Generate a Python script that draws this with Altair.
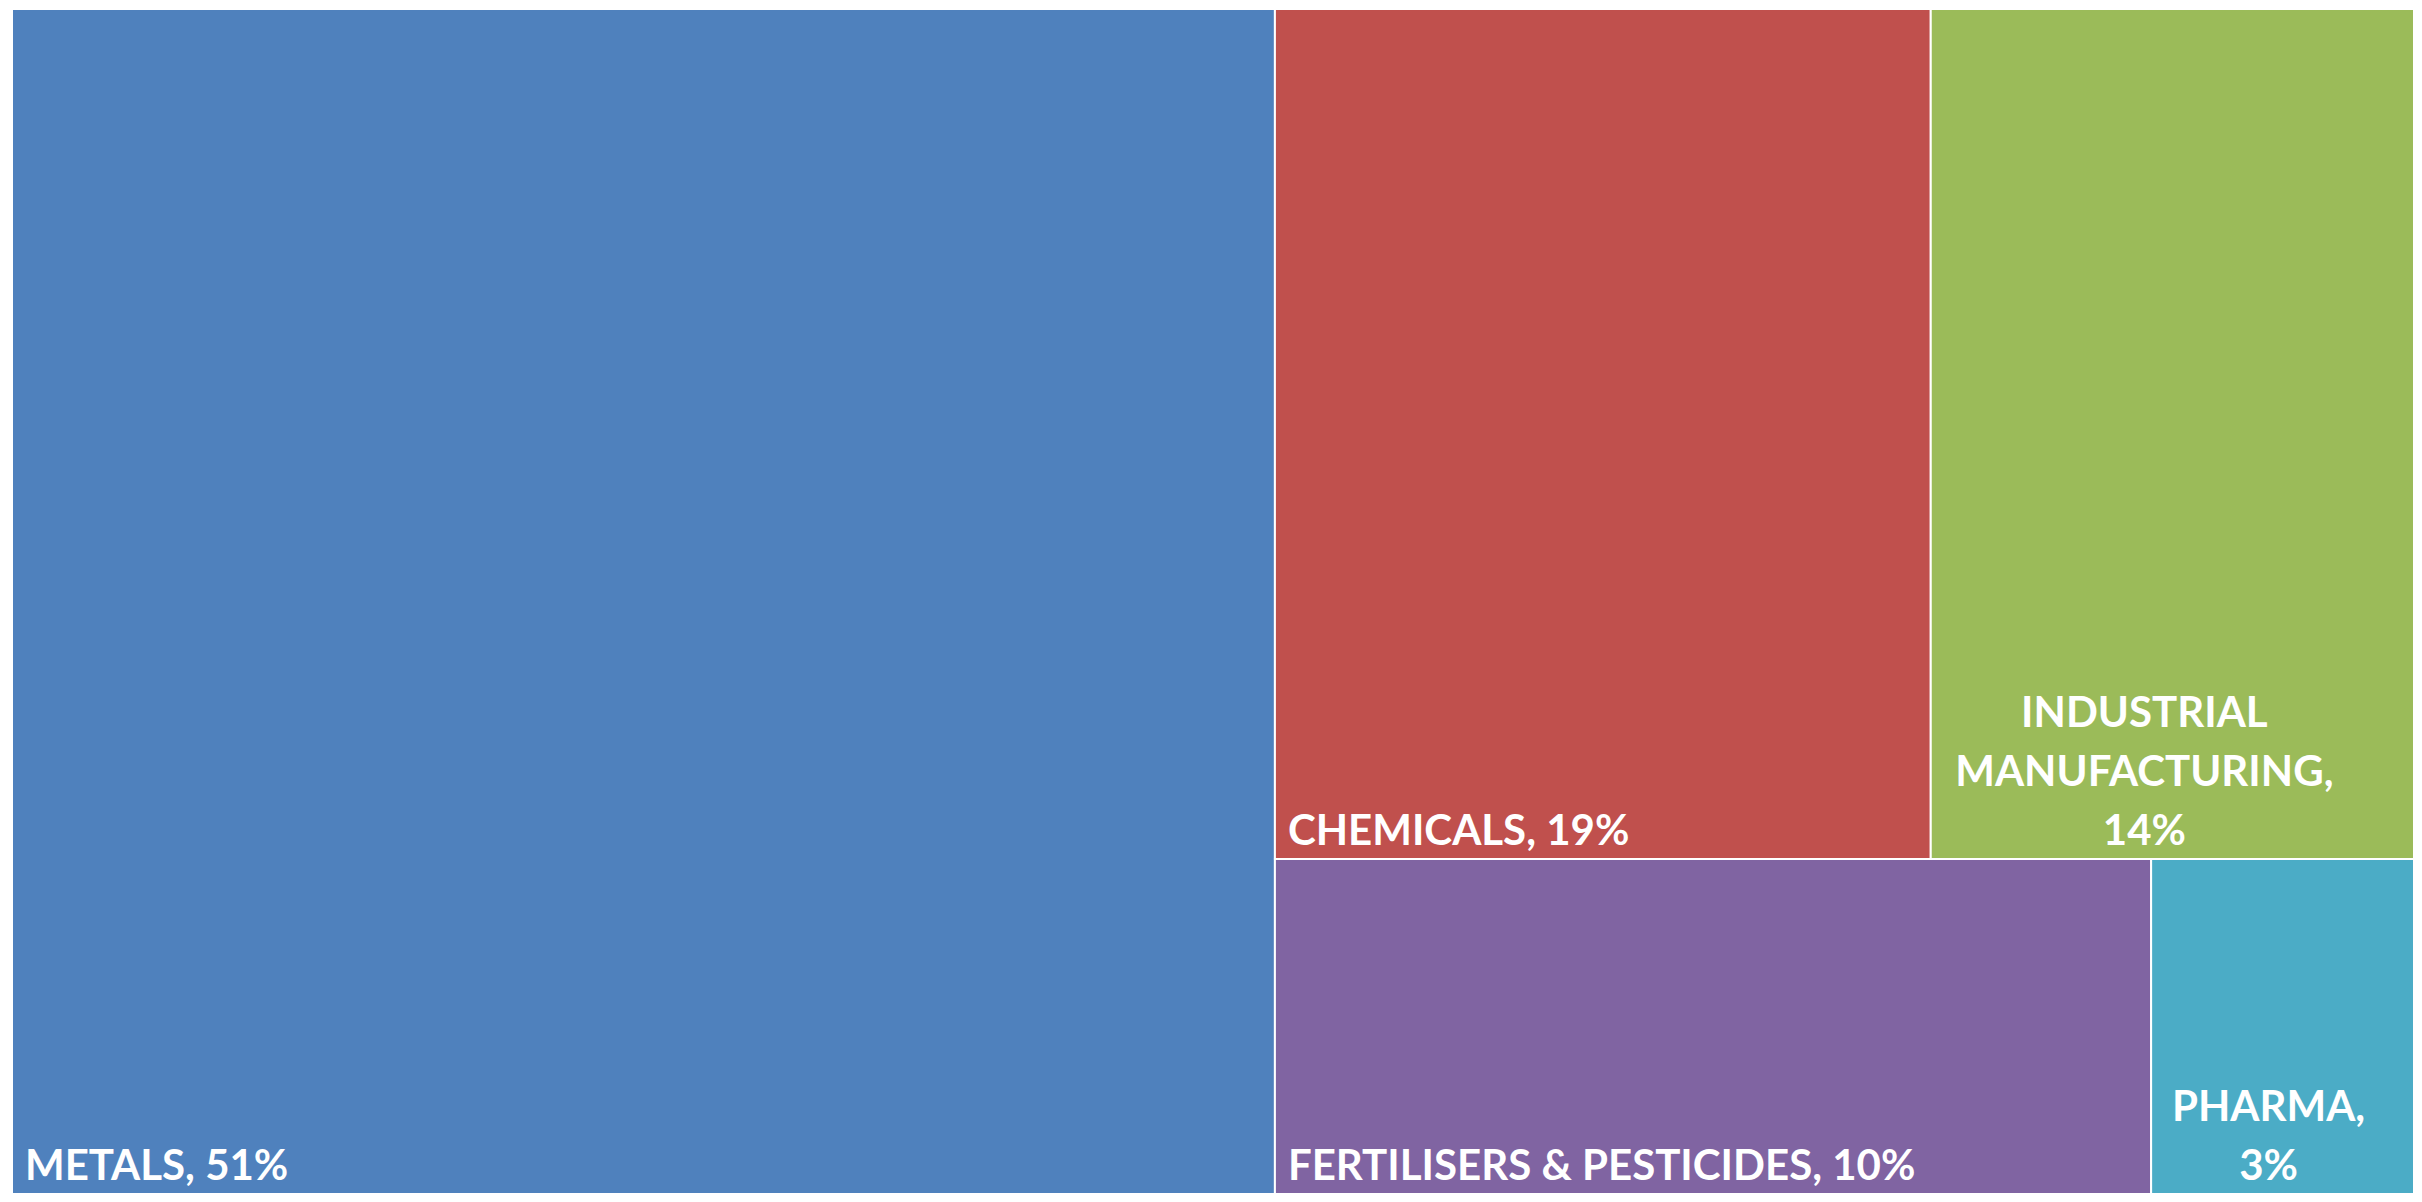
import altair as alt
import pandas as pd

# ---- data ----
categories = ["METALS", "CHEMICALS", "INDUSTRIAL MANUFACTURING",
              "FERTILISERS & PESTICIDES", "PHARMA"]
shares = [51, 19, 14, 10, 3]
colors = ["#4F81BD", "#C0504D", "#9BBB59", "#8064A2", "#4BACC6"]
wrapped = [False, False, True, False, True]   # label broken one word per line

# ---- style ----
W, H = 2402, 1185          # plot area in px
FONT_SIZE = 42
LINE_H = 59
PAD_X, PAD_B = 13, 14
center_nudge = {"INDUSTRIAL MANUFACTURING": -28, "PHARMA": -14}


def squarify(vals, x, y, w, h):
    """Squarified treemap layout; vals are areas (already scaled)."""
    out = []
    vals = list(vals)
    idx = list(range(len(vals)))
    while idx:
        short = min(w, h)

        def worst(r):
            s = sum(vals[i] for i in r)
            t = s / short
            return max(max(t * t / vals[i], vals[i] / (t * t)) for i in r)

        row = [idx[0]]
        k = 1
        while k < len(idx) and worst(row + [idx[k]]) <= worst(row):
            row.append(idx[k])
            k += 1
        s = sum(vals[i] for i in row)
        t = s / short
        pos = 0.0
        for i in row:
            ln = vals[i] / t
            if w >= h:
                out.append((i, x, y + pos, x + t, y + pos + ln))
            else:
                out.append((i, x + pos, y, x + pos + ln, y + t))
            pos += ln
        if w >= h:
            x += t
            w -= t
        else:
            y += t
            h -= t
        idx = idx[k:]
    return sorted(out)


total = sum(shares)
areas = [v / total * W * H for v in shares]
rects = squarify(areas, 0, 0, W, H)

rect_rows = []
for i, x0, y0, x1, y1 in rects:
    rect_rows.append({"cat": categories[i], "x0": x0, "x1": x1, "y0": y0, "y1": y1})
rect_df = pd.DataFrame(rect_rows)

left_rows, center_rows = [], []
for i, x0, y0, x1, y1 in rects:
    label = f"{categories[i]}, {shares[i]}%"
    if wrapped[i]:
        words = label.split(" ")
        n = len(words)
        cx = (x0 + x1) / 2 + center_nudge.get(categories[i], 0)
        for j, wd in enumerate(words):
            center_rows.append({"cat": categories[i], "text": wd, "x": cx,
                                "y": y1 - PAD_B - (n - 1 - j) * LINE_H})
    else:
        left_rows.append({"cat": categories[i], "text": label,
                          "x": x0 + PAD_X, "y": y1 - PAD_B})

xs = alt.Scale(domain=[0, W], nice=False, zero=False)
ys = alt.Scale(domain=[0, H], nice=False, zero=False, reverse=True)
col = alt.Scale(domain=categories, range=colors)

boxes = alt.Chart(rect_df).mark_rect(stroke="white", strokeWidth=2).encode(
    x=alt.X("x0:Q", scale=xs, axis=None),
    x2="x1:Q",
    y=alt.Y("y0:Q", scale=ys, axis=None),
    y2="y1:Q",
    color=alt.Color("cat:N", scale=col, legend=None),
)

txt_style = dict(font="Lato", fontWeight="bold", fontSize=FONT_SIZE,
                 color="white", baseline="alphabetic")

left_txt = alt.Chart(pd.DataFrame(left_rows)).mark_text(align="left", **txt_style).encode(
    x=alt.X("x:Q", scale=xs, axis=None),
    y=alt.Y("y:Q", scale=ys, axis=None),
    text="text:N",
)
center_txt = alt.Chart(pd.DataFrame(center_rows)).mark_text(align="center", **txt_style).encode(
    x=alt.X("x:Q", scale=xs, axis=None),
    y=alt.Y("y:Q", scale=ys, axis=None),
    text="text:N",
)

chart = alt.layer(boxes, left_txt, center_txt).properties(
    width=W, height=H,
    padding={"left": 4, "top": 1, "right": 0, "bottom": 0},
    autosize=alt.AutoSizeParams(type="none"),
    background="white",
).configure_view(stroke=None)

chart.save("out.html", embed_options={"renderer": "svg", "actions": False})
